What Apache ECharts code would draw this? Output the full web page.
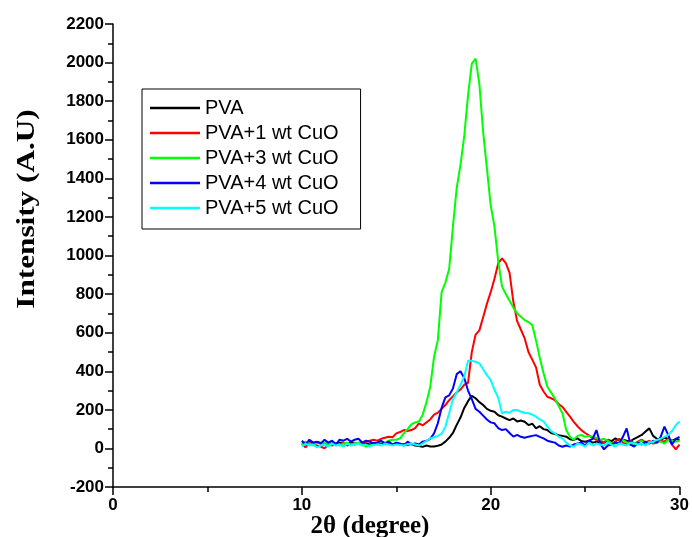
<!DOCTYPE html>
<html>
<head>
<meta charset="utf-8">
<script src="https://cdn.jsdelivr.net/npm/echarts@6/dist/echarts.min.js"></script>
<style>html,body{margin:0;padding:0;background:#fff;}#c{width:692px;height:537px;}</style>
</head>
<body>
<div id="c"></div>
<script>
// 2θ sampling grid (degrees), 10 → 30 in 0.2 steps
const twoTheta = Array.from({length: 101}, (_, i) => +(10 + 0.2 * i).toFixed(1));

const seriesNames = ['PVA', 'PVA+1 wt CuO', 'PVA+3 wt CuO', 'PVA+4 wt CuO', 'PVA+5 wt CuO'];

const pva = [
30,25,35,28,32, 30,20,28,35,25, 30,28,22,32,25, 28,30,25,20,28, 25,30,22,28,20,
25,20,22,18,25, 15,12,8,15,10, 10,14,20,35,55, 80,122,160,210,245, 272,260,240,225,205,
195,190,172,165,155, 147,155,140,145,138, 121,128,104,115,100, 95,80,75,69,65, 61,48,44,52,38,
35,40,30,35,28, 30,45,38,52,40, 45,40,38,50,60, 70,88,104,65,50, 45,55,50,40,48,
45];

const pva1 = [
25,5,30,20,15, 10,0,20,15,25, 20,30,15,25,20, 30,25,35,40,45, 40,50,55,60,58,
78,85,95,90,95, 105,130,120,135,150, 175,185,205,225,250, 270,290,305,330,340, 500,590,612,680,750,
810,880,960,985,960, 910,760,660,615,570, 500,460,420,330,295, 268,260,250,230,215, 190,165,138,115,95,
80,68,55,45,40, 30,45,25,35,50, 30,20,40,25,35, 45,30,40,25,30, 40,35,50,20,-5,
20];

const pva3 = [
20,35,25,15,30, 25,30,20,30,25, 15,25,30,20,25, 30,20,10,15,20, 25,35,30,40,45,
45,52,78,100,125, 135,140,175,240,320, 475,560,810,860,930, 1150,1350,1470,1620,1830, 1995,2020,1890,1640,1450,
1260,1150,970,840,800, 765,730,700,683,665, 655,640,560,470,390, 320,290,258,220,182, 95,60,45,65,70,
60,65,60,55,45, 50,40,26,25,35, 45,30,18,25,30, 40,20,35,30,40, 35,25,45,40,35,
40];

const pva4 = [
40,20,45,30,35, 25,45,30,40,20, 45,40,50,35,45, 50,30,40,35,25, 30,40,25,35,20,
30,25,15,35,20, 25,20,35,40,50, 78,130,210,265,275, 310,385,400,365,300, 255,205,190,170,150,
135,130,105,95,100, 80,61,70,60,55, 61,65,69,60,52, 40,35,30,15,9, 15,10,20,25,30,
15,40,50,95,25, -5,15,20,30,25, 60,104,20,10,30, 20,35,25,40,30, 60,113,70,20,50,
60];

const pva5 = [
10,25,15,20,5, 15,20,10,25,15, 20,10,25,15,20, 25,15,20,10,18, 20,15,25,20,15,
20,18,15,22,25, 20,15,26,40,52, 58,65,75,113,182, 255,290,330,372,455, 455,449,441,410,380,
355,303,262,182,190, 185,199,199,190,185, 182,175,165,150,140, 113,90,78,60,52, 30,15,9,25,20,
10,30,15,25,20, 15,30,20,10,25, 20,15,30,25,20, 25,15,30,35,44, 50,60,70,90,120,
140];

const seriesValues = [pva, pva1, pva3, pva4, pva5];
const seriesColors = ['#000000', '#ff0000', '#00ff00', '#0000ff', '#00ffff'];

const xTitle = '2θ (degree)';
const yTitle = 'Intensity (A.U)';

const chart = echarts.init(document.getElementById('c'), null, {renderer: 'canvas'});

const sansFont = "Arial, 'Liberation Sans', sans-serif";

chart.setOption({
  animation: false,
  backgroundColor: '#ffffff',
  grid: {left: 113, right: 11, top: 24, bottom: 50, containLabel: false},
  xAxis: {
    type: 'value', min: 0, max: 30, interval: 10,
    axisLine: {show: true, onZero: false, lineStyle: {color: '#000', width: 1.5}},
    axisTick: {show: true, inside: false, length: 8, lineStyle: {color: '#000', width: 1.5}},
    minorTick: {show: true, splitNumber: 2, length: 5, lineStyle: {color: '#000', width: 1.5}},
    splitLine: {show: false},
    axisLabel: {color: '#000', fontFamily: sansFont, fontWeight: 'bold', fontSize: 17, margin: 10,
      formatter: v => String(v)}
  },
  yAxis: {
    type: 'value', min: -200, max: 2200, interval: 200,
    axisLine: {show: true, onZero: false, lineStyle: {color: '#000', width: 1.5}},
    axisTick: {show: true, inside: false, length: 8, lineStyle: {color: '#000', width: 1.5}},
    minorTick: {show: true, splitNumber: 2, length: 5, lineStyle: {color: '#000', width: 1.5}},
    splitLine: {show: false},
    axisLabel: {color: '#000', fontFamily: sansFont, fontWeight: 'bold', fontSize: 17, margin: 9,
      formatter: v => String(v)}
  },
  legend: {
    orient: 'vertical',
    left: 142, top: 89,
    padding: [9, 22, 11, 8],
    itemGap: 5,
    itemWidth: 50, itemHeight: 2.5,
    icon: 'rect',
    borderColor: '#000', borderWidth: 1,
    backgroundColor: '#fff',
    textStyle: {color: '#000', fontFamily: sansFont, fontSize: 20, lineHeight: 20},
    data: seriesNames
  },
  graphic: [
    {
      type: 'text', x: 27, y: 209, rotation: Math.PI / 2, scaleX: 1.2,
      style: {text: yTitle, font: "bold 26px 'Liberation Serif', serif", fill: '#000', align: 'center', verticalAlign: 'middle'}
    },
    {
      type: 'text', x: 370, y: 527,
      style: {text: xTitle, font: "bold 25px 'Liberation Serif', serif", fill: '#000', align: 'center', verticalAlign: 'middle'}
    }
  ],
  series: seriesNames.map((name, k) => ({
    name: name,
    type: 'line',
    showSymbol: false,
    symbol: 'none',
    clip: true,
    lineStyle: {color: seriesColors[k], width: 2},
    itemStyle: {color: seriesColors[k]},
    data: twoTheta.map((x, i) => [x, seriesValues[k][i]])
  }))
});
</script>
</body>
</html>
